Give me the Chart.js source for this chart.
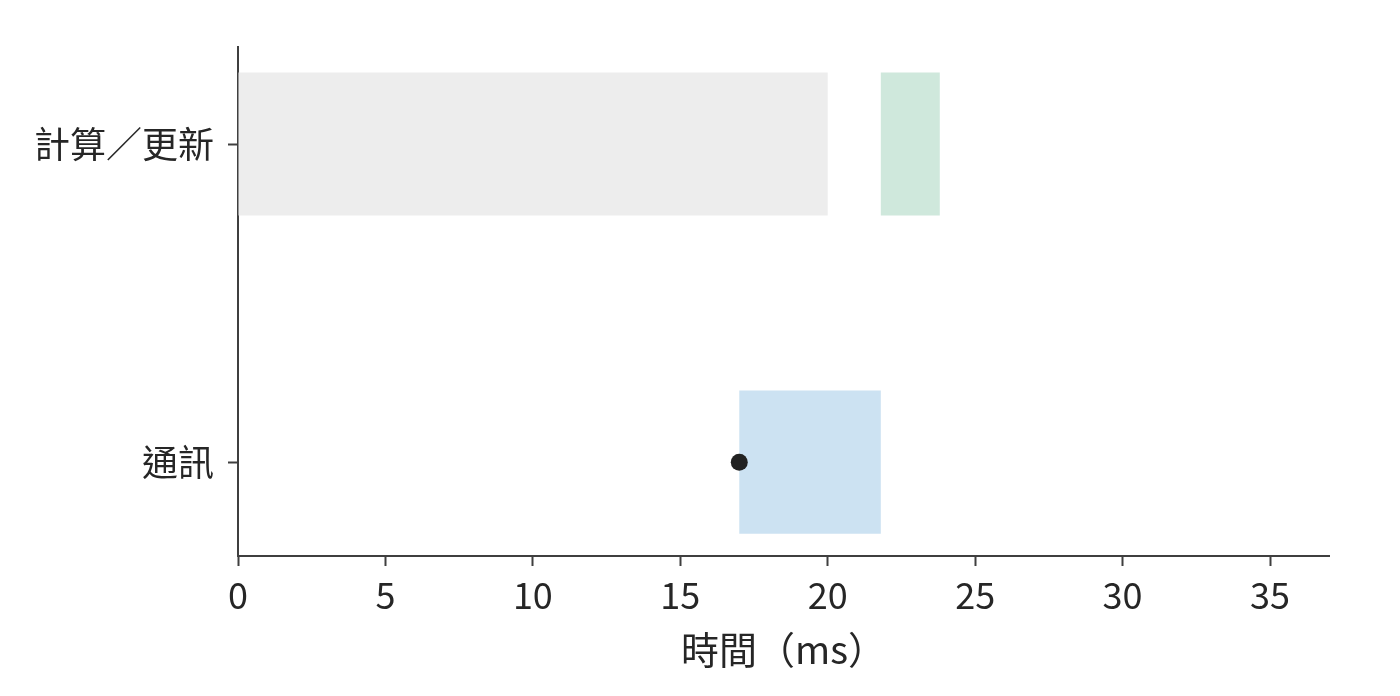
<!DOCTYPE html>
<html>
<head>
<meta charset="utf-8">
<script src="https://cdn.jsdelivr.net/npm/chart.js@4/dist/chart.umd.min.js"></script>
<style>
  html, body { margin: 0; padding: 0; background: #ffffff; }
  #wrap { width: 1400px; height: 696px; position: relative; }
</style>
</head>
<body>
<div id="wrap"><canvas id="c" width="1400" height="696"></canvas></div>
<script>
// ---- data ----
const categories = ['計算／更新', '通訊'];
const barRow   = [0, 0, 1];          // index into categories
const barStart = [0, 21.8, 17];      // ms
const barEnd   = [20, 23.8, 21.8];   // ms
const barColors = ['#ededed', '#cfe8dc', '#cce2f2'];
const pointX   = [17];
const pointRow = [1];
const xTicks   = [0, 5, 10, 15, 20, 25, 30, 35];
const xMin = 0, xMax = 37;
const xTitle = '時間（ms）';

const FONT = "'Noto Sans CJK TC', 'Noto Sans CJK JP', 'Noto Sans', sans-serif";
const AXIS = '#3f3f3f';
const TEXT = '#262626';

const barData = barRow.map((r, i) => ({ y: r, x: [barStart[i], barEnd[i]] }));
const pointData = pointX.map((x, i) => ({ x: x, y: pointRow[i] }));

new Chart(document.getElementById('c'), {
  type: 'bar',
  data: {
    datasets: [
      {
        type: 'scatter',
        data: pointData,
        backgroundColor: '#222222',
        borderColor: '#222222',
        pointRadius: 8.5,
        pointHoverRadius: 8.5,
        borderWidth: 0,
        order: 0
      },
      {
        type: 'bar',
        data: barData,
        backgroundColor: barColors,
        borderWidth: 0,
        barPercentage: 0.45,
        categoryPercentage: 1,
        order: 1
      }
    ]
  },
  options: {
    indexAxis: 'y',
    responsive: false,
    animation: false,
    devicePixelRatio: 1,
    layout: { padding: { left: 0, top: 47, right: 71, bottom: 24 } },
    plugins: { legend: { display: false }, tooltip: { enabled: false } },
    scales: {
      x: {
        type: 'linear',
        min: xMin,
        max: xMax,
        offset: false,
        afterBuildTicks: (s) => { s.ticks = xTicks.map(v => ({ value: v })); },
        afterFit: (s) => { s.height = 116; },
        border: { display: true, color: AXIS, width: 2 },
        grid: { display: true, drawOnChartArea: false, drawTicks: true, tickLength: 10, tickColor: AXIS, tickWidth: 2 },
        ticks: { color: TEXT, font: { family: FONT, size: 36 }, padding: 8, maxRotation: 0, autoSkip: false },
        title: { display: true, text: xTitle, color: TEXT, font: { family: FONT, size: 38 }, padding: { top: 0, bottom: 0 } }
      },
      y: {
        type: 'linear',
        reverse: true,
        min: -0.305,
        max: 1.295,
        offset: false,
        afterBuildTicks: (s) => { s.ticks = categories.map((c, i) => ({ value: i })); },
        afterFit: (s) => { s.width = 238; },
        border: { display: true, color: AXIS, width: 2 },
        grid: { display: true, offset: false, drawOnChartArea: false, drawTicks: true, tickLength: 10, tickColor: AXIS, tickWidth: 2 },
        ticks: {
          color: TEXT, font: { family: FONT, size: 36 }, padding: 14, autoSkip: false,
          callback: (v) => categories[v] !== undefined ? categories[v] : ''
        }
      }
    }
  }
});
</script>
</body>
</html>
